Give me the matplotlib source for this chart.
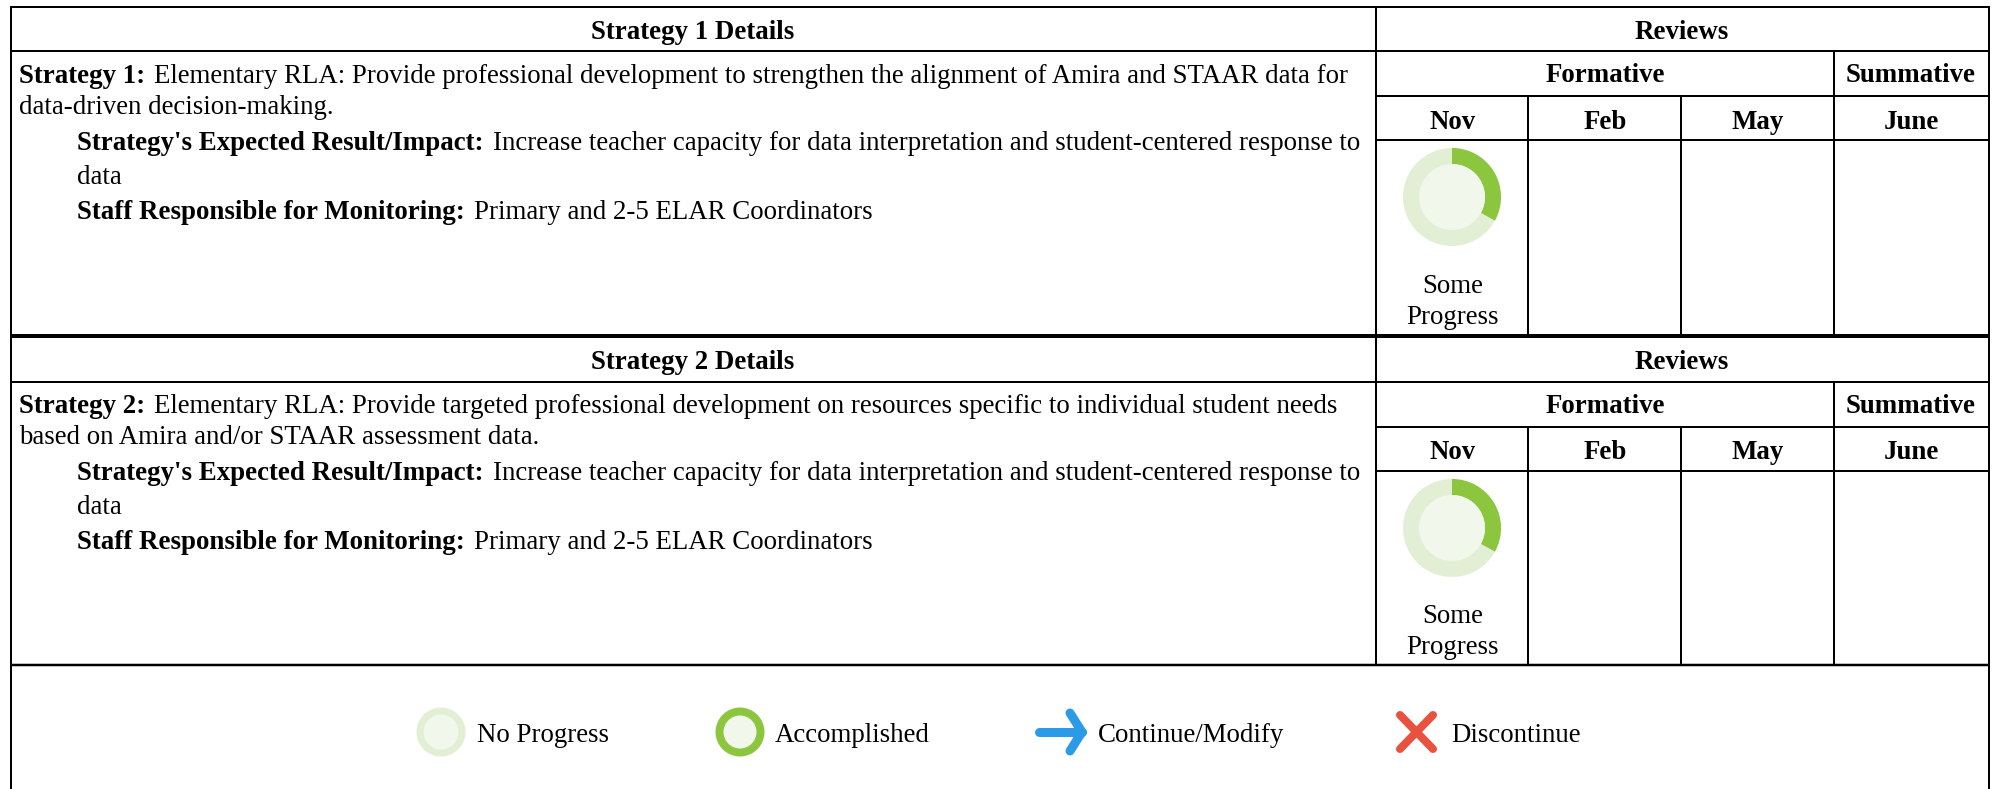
"""Campus plan strategy table with review columns, drawn in pixel coordinates."""
import matplotlib
matplotlib.use("Agg")
import matplotlib.pyplot as plt
from matplotlib.patches import Circle, Wedge

W, H = 1997, 789
FS = 19.4
plt.rcParams["font.family"] = ["Liberation Serif", "DejaVu Serif"]

HEADERS = ["Strategy 1 Details", "Strategy 2 Details"]
REVIEWS = "Reviews"
GROUPS = ["Formative", "Summative"]
MONTHS = ["Nov", "Feb", "May", "June"]
STATUS = ["Some", "Progress"]
PROGRESS = [0.33, 0.33]

STRATEGY_LINES = [
    [("Strategy 1: ", "Elementary RLA: Provide professional development to strengthen the alignment of Amira and STAAR data for"),
     ("", "data-driven decision-making.")],
    [("Strategy 2: ", "Elementary RLA: Provide targeted professional development on resources specific to individual student needs"),
     ("", "based on Amira and/or STAAR assessment data.")],
]
RESULT_LINES = [("Strategy's Expected Result/Impact: ", "Increase teacher capacity for data interpretation and student-centered response to"),
                ("", "data"),
                ("Staff Responsible for Monitoring: ", "Primary and 2-5 ELAR Coordinators")]
LEGEND = ["No Progress", "Accomplished", "Continue/Modify", "Discontinue"]

GREEN = "#8cc63f"
PALE = "#e2efd5"
PALER = "#f1f7ea"
BLUE = "#2b9be8"
RED = "#e9523f"

fig = plt.figure(figsize=(W/100, H/100), dpi=100)
ax = fig.add_axes([0, 0, 1, 1])
ax.set_xlim(0, W); ax.set_ylim(H, 0); ax.axis("off")

L, C0, C1, C2, C3, R = 11.5, 1376, 1528.5, 1681, 1834, 1989
OFF = 331
TXT_OFF = 330


def line(x0, y0, x1, y1, lw=2.0, color="black", cap="butt"):
    ax.plot([x0, x1], [y0, y1], color=color, lw=lw*0.72, solid_capstyle=cap)


def rich(x, y, bold, normal):
    # bold run then plain run on one baseline
    r = fig.canvas.get_renderer()
    if bold:
        t = ax.text(x, y, bold, fontsize=FS, fontweight="bold", va="baseline", ha="left")
        x = t.get_window_extent(r).x1 + 2.5
    ax.text(x, y, normal, fontsize=FS, va="baseline", ha="left")


for i in range(2):
    o = OFF*i
    to = TXT_OFF*i
    end = 336 + 329*i
    # text
    ax.text((L+C0)/2-1.5, 39+to, HEADERS[i], fontsize=FS, fontweight="bold", ha="center", va="baseline")
    ax.text((C0+R)/2-1, 39+to, REVIEWS, fontsize=FS, fontweight="bold", ha="center", va="baseline")
    ax.text((C0+C3)/2, 82+o, GROUPS[0], fontsize=FS, fontweight="bold", ha="center", va="baseline")
    ax.text((C3+R)/2-1, 82+o, GROUPS[1], fontsize=FS, fontweight="bold", ha="center", va="baseline")
    for m, a, b in zip(MONTHS, [C0, C1, C2, C3], [C1, C2, C3, R]):
        ax.text((a+b)/2, 129+to, m, fontsize=FS, fontweight="bold", ha="center", va="baseline")
    for (b, n), y in zip(STRATEGY_LINES[i], [83, 114]):
        rich(19, y+to, b, n)
    for (b, n), y in zip(RESULT_LINES, [150, 184, 219]):
        rich(77, y+to, b, n)
    for s, y in zip(STATUS, [293, 324]):
        ax.text((C0+C1)/2, y+to, s, fontsize=FS, ha="center", va="baseline")
    # donut
    cx, cy = 1452, 197+o
    ax.add_patch(Circle((cx, cy), 49, fc=PALE, ec="none"))
    ax.add_patch(Wedge((cx, cy), 49, -90, -90+360*PROGRESS[i], width=16, fc=GREEN, ec="none"))
    ax.add_patch(Circle((cx, cy), 33, fc=PALER, ec="none"))
    # rules
    line(L, 51+o, R, 51+o)
    line(C0, 96+o, R, 96+o)
    line(C0, 140+o, R, 140+o)
    line(C0, 6+o, C0, end)
    line(C1, 96+o, C1, end)
    line(C2, 96+o, C2, end)
    line(C3, 51+o, C3, end)

line(L-1, 6.5, R+1, 6.5)
line(L, 336, R, 336, lw=4)
line(L, 665, R, 665, lw=2.5)
line(L, 6, L, H)
line(R, 6, R, H)

# legend
ax.add_patch(Circle((441, 732), 24.5, fc=PALE, ec="none"))
ax.add_patch(Circle((441, 732), 17.5, fc=PALER, ec="none"))
ax.add_patch(Circle((740, 732), 24.5, fc=GREEN, ec="none"))
ax.add_patch(Circle((740, 732), 16.5, fc=PALER, ec="none"))
line(1039, 732, 1082, 732, lw=9, color=BLUE, cap="round")
ax.plot([1070, 1082, 1070], [713, 732, 751], color=BLUE, lw=9*0.72, solid_capstyle="round", solid_joinstyle="miter")
line(1400, 715, 1433, 749, lw=8, color=RED, cap="round")
line(1433, 715, 1400, 749, lw=8, color=RED, cap="round")
for s, x in zip(LEGEND, [477, 775, 1098, 1451]):
    ax.text(x, 742, s, fontsize=FS, ha="left", va="baseline")

fig.savefig("out.png", dpi=100)
